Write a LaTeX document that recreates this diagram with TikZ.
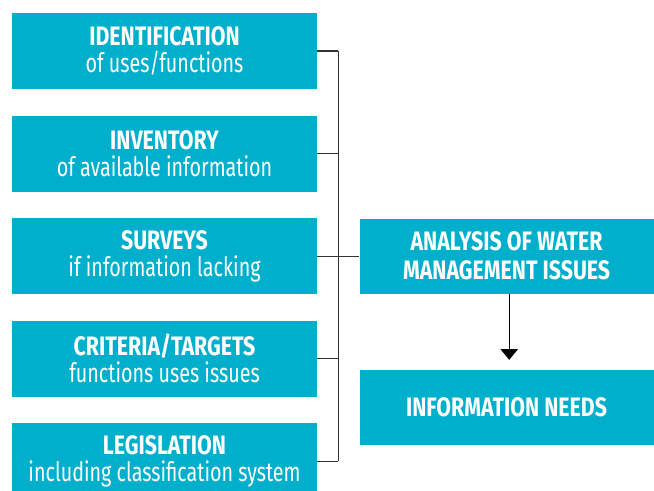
\documentclass[tikz,border=0pt]{standalone}
\usepackage{fontspec}
\setmainfont[UprightFeatures={FakeStretch=0.74},BoldFeatures={FakeStretch=0.8}]{Fira Sans}
\usepackage{xcolor}
\usetikzlibrary{arrows.meta,positioning}
\definecolor{boxblue}{RGB}{0,175,203}
\tikzset{%
	block/.style    = {fill=boxblue, text=white, rectangle, inner sep=0pt, align=center, minimum width=228.75pt, minimum height=57pt, font=\fontsize{20}{20.5}\selectfont}, % Left boxes
	result/.style   = {block, minimum width=220.5pt, minimum height=56.25pt}, % Right boxes
	link/.style     = {line width=0.8pt, draw=black!80}, % Connector
	arrow/.style    = {line width=0.8pt, -{Triangle[width=13pt,length=8pt]}},
}
\begin{document}
\begin{tikzpicture}[node distance = 19.5pt]
	\useasboundingbox (0,0) rectangle (490.5pt,-368.25pt);
	\node[block] (ident) at (123.4pt,-38.25pt) {\textbf{IDENTIFICATION}\\of uses/functions};
	\node[block,below=of ident] (invent) {\textbf{INVENTORY}\\of available information};
	\node[block,below=of invent] (surv) {\textbf{SURVEYS}\\if information lacking};
	\node[block,below=of surv] (crit) {\textbf{CRITERIA/TARGETS}\\functions uses issues};
	\node[block,below=of crit] (legis) {\textbf{LEGISLATION}\\including classification system};
	\node[result,right=31.5pt of surv] (analysis) {\textbf{ANALYSIS OF WATER}\\[1.5pt]\textbf{MANAGEMENT ISSUES}};
	\node[result,below=57pt of analysis] (needs) {\textbf{INFORMATION NEEDS}};
	\draw[link] (ident.east) -- ++(15.75pt,0) coordinate (bt);
	\draw[link] (legis.east) -- ++(15.75pt,0) coordinate (bb);
	\draw[link] (bt) -- (bb);
	\draw[link] (invent.east) -- (invent.east -| bt);
	\draw[link] (crit.east) -- (crit.east -| bt);
	\draw[link] (surv.east) -- (analysis.west);
	\draw[arrow] ([xshift=2pt]analysis.south) -- ([xshift=2pt,yshift=7.5pt]needs.north);
\end{tikzpicture}
\end{document}
